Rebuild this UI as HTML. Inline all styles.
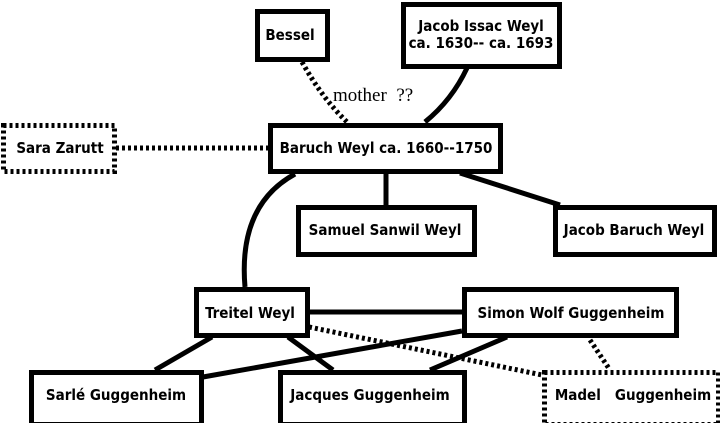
<!DOCTYPE html>
<html><head><style>body{margin:0;background:#fff}svg{display:block}
text{font-family:"DejaVu Sans","Liberation Sans",sans-serif;font-weight:bold;font-size:15px;font-stretch:condensed}</style></head>
<body><svg width="720" height="423" viewBox="0 0 720 423" xmlns="http://www.w3.org/2000/svg">
<g fill="none" stroke="#000" stroke-width="5">
<path d="M302 62 Q322 98 347 122" stroke-dasharray="3,3"/>
<path d="M467 68 Q452 100 425 122"/>
<path d="M116 148 L268 148" stroke-dasharray="3,3"/>
<path d="M295 174 Q238 205 245 287"/>
<path d="M386 173 L386 205"/>
<path d="M460 173 L560 205"/>
<path d="M309 312 L462 312"/>
<path d="M212 337 L155 370"/>
<path d="M288 337 L333 370"/>
<path d="M462 331 L203 377"/>
<path d="M507 337 L430 370"/>
<path d="M309 327 L542 375" stroke-dasharray="3,3"/>
<path d="M590 340 L610 370" stroke-dasharray="3,3"/>
<rect x="257.5" y="11.5" width="70" height="48" fill="#fff"/>
<rect x="403.5" y="4.5" width="156" height="62" fill="#fff"/>
<rect x="3.5" y="125.5" width="111" height="46" fill="#fff" stroke-dasharray="3,3"/>
<rect x="270.5" y="125.5" width="230" height="46" fill="#fff"/>
<rect x="298.5" y="207.5" width="176" height="47" fill="#fff"/>
<rect x="555.5" y="207.5" width="159" height="47" fill="#fff"/>
<rect x="196.5" y="289.5" width="111" height="46" fill="#fff"/>
<rect x="464.5" y="289.5" width="212" height="46" fill="#fff"/>
<rect x="31.5" y="372.5" width="170" height="52" fill="#fff"/>
<rect x="280.5" y="372.5" width="184" height="52" fill="#fff"/>
<rect x="544.5" y="372.5" width="174" height="52" fill="#fff" stroke-dasharray="3,3"/>
</g>
<text x="333" y="101" xml:space="preserve" style="font-family:'Liberation Serif',serif;font-weight:normal;font-size:19px;font-stretch:normal">mother  ??</text>
<g text-anchor="middle">
<text x="290" y="40">Bessel</text>
<text x="481" y="31">Jacob Issac Weyl</text>
<text x="481" y="48">ca. 1630-- ca. 1693</text>
<text x="60" y="153">Sara Zarutt</text>
<text x="386" y="153">Baruch Weyl ca. 1660--1750</text>
<text x="385" y="235">Samuel Sanwil Weyl</text>
<text x="634" y="235">Jacob Baruch Weyl</text>
<text x="250" y="318">Treitel Weyl</text>
<text x="571" y="318">Simon Wolf Guggenheim</text>
<text x="116" y="400">Sarlé Guggenheim</text>
<text x="370" y="400">Jacques Guggenheim</text>
<text x="633" y="400" xml:space="preserve">Madel   Guggenheim</text>
</g>
</svg></body></html>
